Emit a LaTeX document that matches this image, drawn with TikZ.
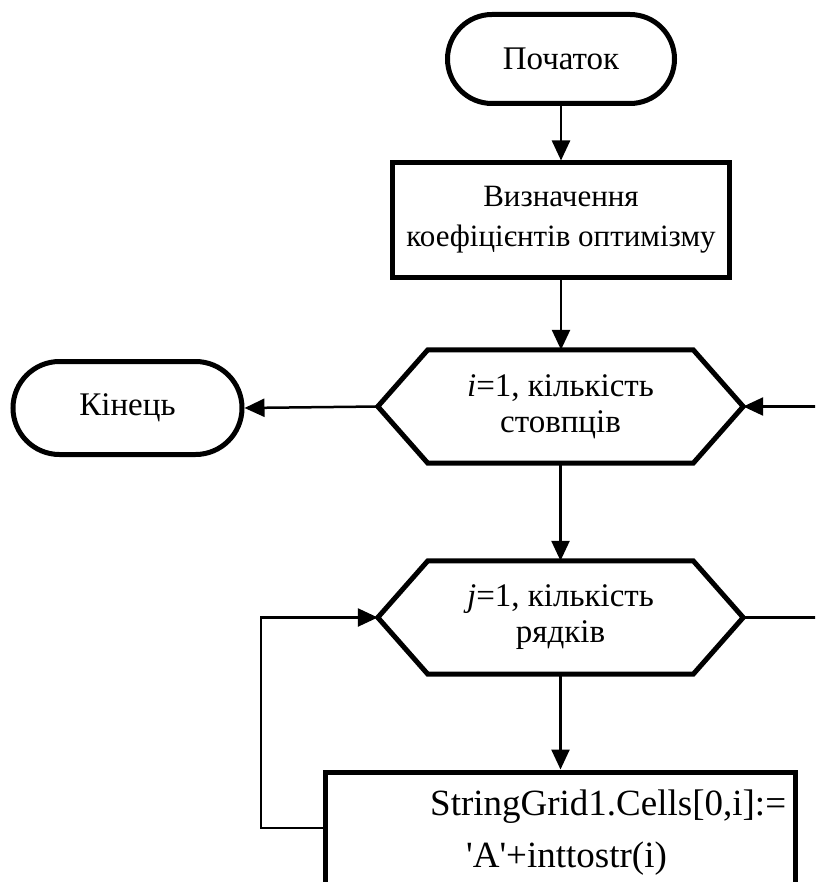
\documentclass[tikz,border=0pt]{standalone}
\usepackage{fontspec}
\setmainfont{Liberation Serif}
\usetikzlibrary{arrows.meta,shapes.misc}
\begin{document}
\begin{tikzpicture}[x=1pt,y=-1pt,
  shapeline/.style={line width=5pt, line join=miter},
  terminal/.style={rounded rectangle, draw, line width=5pt, inner sep=0pt,
    font=\fontsize{33}{39}\selectfont},
  procbox/.style={rectangle, draw, line width=5pt, inner sep=0pt, align=center,
    font=\fontsize{31}{40}\selectfont},
  hexnode/.style={rectangle, minimum width=365pt, minimum height=113pt, inner sep=0pt,
    align=center, font=\fontsize{33}{36}\selectfont},
  conn/.style={line width=2.5pt, -{Triangle[length=20pt,width=18pt]}},
  plainline/.style={line width=2.5pt}
]
\useasboundingbox (0,0) rectangle (815,882);
\fill[white] (0,0) rectangle (815,882);
\clip (0,0) rectangle (815,882);

% nodes
\node[terminal, minimum width=227pt, minimum height=89pt] (start) at (561,59) {Початок};
\node[procbox, minimum width=337pt, minimum height=114pt] (def) at (561,220)
  {Визначення\\коефіцієнтів оптимізму};
\node[hexnode] (loopi) at (560.5,406.5) {\textit{i}=1, кількість\\стовпців};
\node[terminal, minimum width=229pt, minimum height=93pt] (end) at (127.5,408) {Кінець};
\node[hexnode] (loopj) at (560.5,617.5) {\textit{j}=1, кількість\\рядків};
\node[rectangle, draw, line width=5pt, minimum width=470pt, minimum height=160pt] (cells) at (560,852) {};
\node[anchor=base west, align=left, inner sep=0pt, font=\fontsize{37}{52}\selectfont] (celltext) at (430,867)
  {StringGrid1.Cells[0,i]:=\\\hspace*{36pt}\textquotesingle A\textquotesingle+inttostr(i)};

% hexagon outlines
\foreach \h in {loopi,loopj}{
  \draw[shapeline] (\h.west) -- ([xshift=50pt]\h.north west) -- ([xshift=-50pt]\h.north east)
    -- (\h.east) -- ([xshift=-50pt]\h.south east) -- ([xshift=50pt]\h.south west) -- cycle;
}

% connectors
\coordinate (rin) at (820,406.5);
\coordinate (rout) at (820,617.5);
\coordinate (loopy) at (0,828);
\coordinate (loopleft) at (261,617.5);
\draw[conn] (start.south) -- (start.south |- def.north);
\draw[conn] (def.south) -- (def.south |- loopi.north);
\draw[conn] (loopi.west) -- (end.east);
\draw[conn] (rin) -- (loopi.east);
\draw[conn] (loopi.south) -- (loopj.north);
\draw[conn] (loopj.south) -- (loopj.south |- cells.north);
\draw[plainline] (loopj.east) -- (rout);
\draw[conn] (cells.west |- loopy) -| (loopleft) -- (loopj.west);
\end{tikzpicture}
\end{document}
